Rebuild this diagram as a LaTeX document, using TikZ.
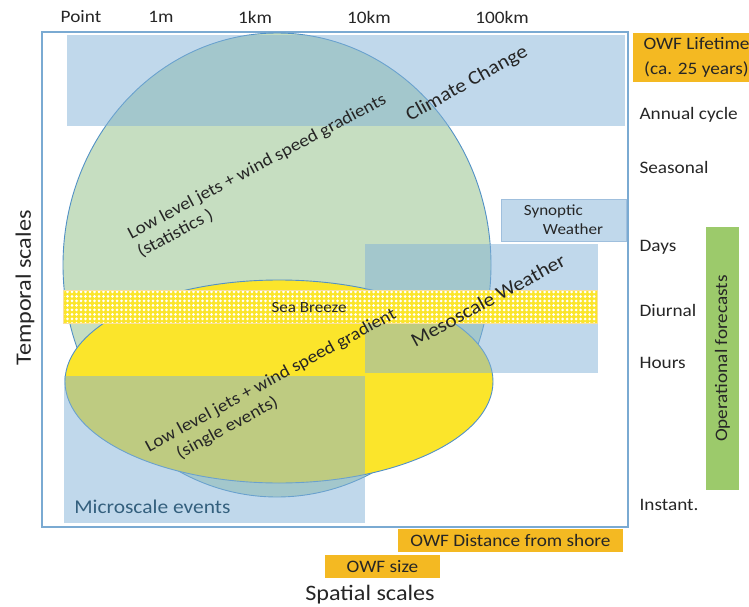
\documentclass[tikz,border=0pt]{standalone}
\usepackage{fontspec}
\setmainfont{Carlito}[FakeStretch=1.1]
\setsansfont{Carlito}[FakeStretch=1.1]
\usetikzlibrary{positioning,patterns.meta}
\definecolor{frame}{HTML}{7AAAD2}
\definecolor{ringblue}{HTML}{5291C6}
\definecolor{lgreen}{HTML}{C6DEC1}
\definecolor{yel}{HTML}{FBE52B}
\definecolor{lblue}{HTML}{82B2D7}
\definecolor{synfill}{HTML}{C0D8EB}
\definecolor{synedge}{HTML}{9FBFDD}
\definecolor{owf}{HTML}{F4B922}
\definecolor{opgreen}{HTML}{9CCA6B}
\definecolor{dark}{HTML}{262626}
\definecolor{micro}{HTML}{34607E}
\tikzset{
  every node/.append style={font=\sffamily, text=dark},
  lbl/.style={font=\sffamily\fontsize{17.5}{21}\selectfont},
  big/.style={font=\sffamily\fontsize{19.5}{23}\selectfont},
  small/.style={font=\sffamily\fontsize{15.5}{19}\selectfont},
  ttl/.style={font=\sffamily\fontsize{22}{26}\selectfont},
  scalebox/.style={fill=lblue, fill opacity=0.5, inner sep=0pt},
  owfbox/.style={lbl, fill=owf, inner sep=0pt, minimum height=23pt},
  ring/.style={draw=ringblue, line width=0.9pt},
}

\begin{document}
\begin{tikzpicture}[x=1pt,y=-1pt]
  \useasboundingbox (0,0) rectangle (749,607);
  % --- frame and axis labels ---
  \node[draw=frame, line width=1.5pt, inner sep=0pt,
        minimum width=586pt, minimum height=495pt] (frm) at (335,279.5) {};
  \foreach \n/\t/\x in {pt/Point/81, m/1m/161, km/1km/255, tkm/10km/369, hkm/100km/502}{
     \node[lbl] (s\n) at (\x,17) {\t};}
  \foreach \n/\t/\y in {an/Annual cycle/115, se/Seasonal/167, da/Days/247,
                        di/Diurnal/310, ho/Hours/363, in/Instant./505}{
     \node[lbl, anchor=west] (t\n) at (636,\y) {\t};}
  \node[ttl, rotate=90] (tscale) at (25,288) {Temporal scales};
  \node[ttl] (sscale) at (370,595) {Spatial scales};
  % --- low level jets ---
  \draw[ring, fill=lgreen] (277,265) ellipse [x radius=214, y radius=232];
  \draw[ring, fill=yel] (279,381.5) ellipse [x radius=214, y radius=101.5];
  % --- scales of weather ---
  \node[scalebox, minimum width=558pt, minimum height=91pt] (clim) at (346,80.5) {};
  \node[scalebox, minimum width=301pt, minimum height=147pt] (micro) at (214.5,449.5) {};
  \node[scalebox, minimum width=233pt, minimum height=129pt] (meso) at (481.5,308.5) {};
  \node[small, fill=synfill, draw=synedge, line width=0.8pt, align=left, inner sep=0pt,
        minimum width=125pt, minimum height=42pt] (syn) at (563.5,220)
    {Synoptic\\\hspace*{19pt}Weather};
  \node[preaction={fill=yel}, pattern={Dots[distance=4.5pt,radius=1.5pt]}, pattern color=white,
        draw=owf!45, line width=0.6pt, inner sep=0pt,
        minimum width=534pt, minimum height=33pt] (sb) at (330,306.5) {};
  \node[small] (sbtxt) at ([xshift=-21pt,yshift=-1pt]sb.center) {Sea Breeze};
  % --- rotated texts ---
  \node[lbl, rotate=28, align=left] (llj) at (262,176)
    {Low level jets + wind speed gradients\\(statistics )};
  \node[lbl, rotate=28.5, align=left] (lljs) at (276,390)
    {Low level jets + wind speed gradient\\\hspace*{24pt}(single events)};
  \node[big, rotate=29] (climtxt) at (467,84) {Climate Change};
  \node[big, rotate=28.5] (mesotxt) at (488,300) {Mesoscale Weather};
  \node[big, text=micro, anchor=west] (microtxt) at ([xshift=7pt,yshift=16pt]micro.south west)
    {Microscale events};
  % --- wind farm boxes ---
  \node[owfbox, align=center, font=\sffamily\fontsize{17.5}{25}\selectfont,
        minimum width=127pt, minimum height=49pt] (life) at (696.5,57.5)
    {OWF Lifetime\\(ca. 25 years)};
  \node[lbl, fill=opgreen, rotate=90, inner sep=0pt,
        minimum width=263pt, minimum height=33pt] (opf) at (722.5,358.5) {Operational forecasts};
  \node[owfbox, minimum width=225pt] (dist) at (510.5,540.5) {OWF Distance from shore};
  \node[owfbox, minimum width=115pt] (size) at (382.5,566.5) {OWF size};
\end{tikzpicture}
\end{document}
